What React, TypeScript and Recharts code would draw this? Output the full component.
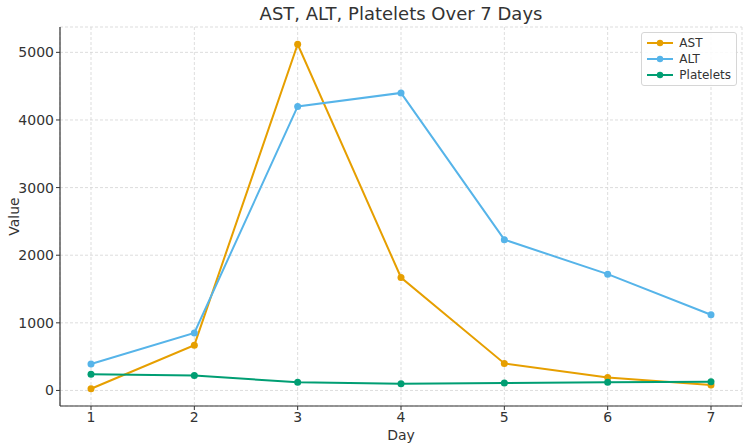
import React from 'react';
import {
  LineChart,
  Line,
  XAxis,
  YAxis,
  CartesianGrid,
} from 'recharts';

// Data
const days = [1, 2, 3, 4, 5, 6, 7];
const astValues = [25, 670, 5120, 1670, 400, 190, 80];
const altValues = [390, 850, 4200, 4400, 2230, 1720, 1120];
const plateletValues = [240, 220, 120, 100, 110, 120, 130];
const yTicks = [0, 1000, 2000, 3000, 4000, 5000];

const SERIES = [
  { key: 'AST', color: '#E69F00' },
  { key: 'ALT', color: '#56B4E9' },
  { key: 'Platelets', color: '#009E73' },
];

const FONT = '"DejaVu Sans", sans-serif';

const chartData = days.map((d, i) => ({
  day: d,
  AST: astValues[i],
  ALT: altValues[i],
  Platelets: plateletValues[i],
}));

// Matplotlib-style boxed legend, placed over the plot
const LegendBox = () => (
  <div
    style={{
      position: 'absolute',
      right: 13,
      top: 32,
      border: '1px solid #d6d6d6',
      borderRadius: 3,
      background: 'rgba(255,255,255,0.85)',
      padding: '2px 5px 2px 5px',
      fontFamily: FONT,
      fontSize: 12,
      color: '#333',
    }}
  >
    {SERIES.map((s) => (
      <div key={s.key} style={{ display: 'flex', alignItems: 'center', height: 16 }}>
        <svg width={26} height={10} style={{ marginRight: 6 }}>
          <line x1={0} y1={5} x2={26} y2={5} stroke={s.color} strokeWidth={2} />
          <circle cx={13} cy={5} r={3.2} fill={s.color} />
        </svg>
        <span>{s.key}</span>
      </div>
    ))}
  </div>
);

export default function App() {
  return (
    <div style={{ position: 'absolute', left: 0, top: 0, width: 750, height: 447, background: '#fff' }}>
      <LineChart
        width={750}
        height={447}
        data={chartData}
        margin={{ top: 27, right: 8, bottom: 11, left: 0 }}
      >
        <CartesianGrid stroke="#d4d4d4" strokeDasharray="3 2" strokeWidth={0.8} />
        <XAxis
          dataKey="day"
          type="number"
          domain={[0.7, 7.3]}
          ticks={days}
          height={30}
          tick={{ fill: '#333', fontSize: 14, fontFamily: FONT }}
          tickSize={4}
          tickLine={{ stroke: '#333' }}
          axisLine={{ stroke: '#333', strokeWidth: 1.2 }}
          label={{ value: 'Day', position: 'insideBottom', offset: -4, fill: '#333', fontSize: 14, fontFamily: FONT }}
        />
        <YAxis
          type="number"
          domain={[-230, 5375]}
          ticks={yTicks}
          width={60}
          tick={{ fill: '#333', fontSize: 14, fontFamily: FONT }}
          tickSize={4}
          tickLine={{ stroke: '#333' }}
          axisLine={{ stroke: '#333', strokeWidth: 1.2 }}
          label={{
            value: 'Value',
            angle: -90,
            position: 'insideLeft',
            offset: 14,
            textAnchor: 'middle',
            fill: '#333',
            fontSize: 14,
            fontFamily: FONT,
          }}
        />
        {SERIES.map((s) => (
          <Line
            key={s.key}
            dataKey={s.key}
            stroke={s.color}
            strokeWidth={2}
            dot={{ r: 3.5, fill: s.color, stroke: s.color, strokeWidth: 0 }}
            activeDot={false}
            isAnimationActive={false}
          />
        ))}
      </LineChart>
      <div
        style={{
          position: 'absolute',
          left: 60,
          width: 682,
          top: 3,
          textAlign: 'center',
          fontFamily: FONT,
          fontSize: 18,
          color: '#333',
        }}
      >
        AST, ALT, Platelets Over 7 Days
      </div>
      <LegendBox />
    </div>
  );
}
